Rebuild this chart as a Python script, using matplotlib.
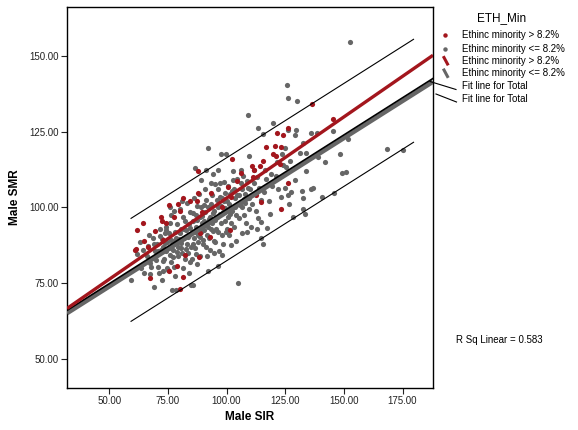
import numpy as np
import matplotlib
matplotlib.use('Agg')
import matplotlib.pyplot as plt
from matplotlib.lines import Line2D

plt.rcParams['font.family'] = ['Liberation Sans', 'DejaVu Sans']

# Male SIR / Male SMR, wards with ethnic minority share <= 8.2%
low_pts = [
    (59.1, 76.1), (62.0, 84.5), (63.5, 80.0), (64.5, 86.0), (65.0, 78.5), (63.0, 88.5),
    (66.5, 87.3), (67.3, 81.6), (68.0, 80.5), (69.1, 73.7), (66.0, 84.0), (68.5, 90.0),
    (69.5, 85.5), (67.5, 78.0), (69.0, 88.0), (66.8, 91.0),
    (70.1, 82.7), (70.8, 80.5), (71.3, 84.9), (72.3, 76.1), (73.0, 87.1), (73.7, 91.5),
    (74.1, 92.6), (74.4, 93.7), (71.0, 78.5), (72.0, 86.0), (73.5, 83.0), (74.5, 80.0),
    (72.5, 89.5), (70.5, 88.0), (74.0, 85.5), (71.8, 93.0), (73.0, 79.0), (74.8, 88.5),
    (75.1, 79.4), (75.8, 100.3), (76.5, 89.3), (77.2, 86.0), (77.5, 80.5), (76.9, 72.8),
    (78.6, 72.8), (79.3, 87.1), (78.0, 92.0), (76.0, 95.0), (77.0, 83.5), (78.5, 90.0),
    (79.5, 84.0), (75.5, 91.5), (76.5, 97.5), (78.0, 77.5), (79.0, 94.5), (79.8, 89.5),
    (77.8, 99.0), (75.3, 86.5), (76.2, 82.0),
    (80.8, 88.2), (81.5, 97.0), (82.9, 92.6), (83.6, 84.9), (84.3, 82.1), (80.5, 93.0),
    (81.0, 85.0), (82.0, 90.0), (82.5, 95.5), (83.0, 88.0), (84.0, 91.0), (84.5, 98.5),
    (80.2, 99.5), (81.5, 80.0), (83.2, 101.5), (84.8, 87.0), (82.2, 83.0), (80.0, 91.5),
    (83.8, 94.5), (81.2, 102.0), (84.2, 78.5),
    (85.0, 74.4), (85.7, 74.4), (85.7, 98.1), (86.4, 113.1), (88.5, 96.8), (89.3, 109.1),
    (86.0, 90.0), (86.5, 86.5), (87.0, 93.5), (87.5, 100.5), (88.0, 88.5), (88.5, 84.0),
    (89.0, 92.0), (89.5, 95.0), (86.2, 103.0), (87.2, 81.5), (88.2, 104.5), (89.8, 88.0),
    (85.5, 95.5), (87.8, 91.0), (86.8, 97.5), (89.0, 100.0), (85.2, 83.0),
    (90.0, 89.3), (91.4, 102.5), (91.4, 87.1), (92.1, 79.1), (94.2, 92.1), (94.5, 84.9),
    (91.4, 112.4), (94.2, 111.1), (92.1, 119.5), (90.5, 95.5), (91.0, 98.5), (92.0, 93.5),
    (92.5, 90.0), (93.0, 97.0), (93.5, 101.0), (94.0, 104.0), (90.8, 106.0), (92.8, 86.0),
    (93.8, 95.0), (94.8, 99.0), (90.2, 92.5), (91.8, 84.0), (93.3, 108.0), (92.3, 100.0),
    (94.5, 89.0),
    (96.2, 80.7), (96.8, 85.8), (98.0, 84.3), (96.3, 112.4), (97.1, 108.2), (97.5, 117.5),
    (99.9, 117.5), (95.5, 93.0), (96.0, 97.0), (96.5, 100.0), (97.0, 103.5), (97.5, 95.0),
    (98.0, 91.0), (98.5, 98.5), (99.0, 102.0), (99.2, 104.7), (99.5, 95.5), (95.2, 88.5),
    (96.5, 106.0), (98.8, 108.5), (97.8, 100.5), (99.8, 92.0), (95.8, 102.5), (98.3, 88.0),
    (101.7, 87.6), (102.7, 109.1), (100.5, 97.0), (101.0, 101.0), (101.5, 104.5), (102.0, 95.0),
    (102.5, 99.0), (103.0, 106.0), (103.5, 103.0), (104.0, 97.5), (104.5, 109.5), (100.2, 93.0),
    (101.2, 91.0), (103.2, 93.5), (104.8, 101.0), (104.8, 75.2), (100.8, 107.0), (102.8, 112.0),
    (104.2, 89.0),
    (106.7, 91.5), (105.5, 104.0), (106.0, 108.0), (106.5, 100.0), (107.0, 110.5), (107.5, 97.5),
    (108.0, 104.5), (108.5, 95.0), (109.0, 106.5), (109.5, 117.1), (109.1, 130.5), (105.2, 96.5),
    (107.8, 101.5), (109.5, 99.5), (106.2, 112.5), (108.8, 92.0),
    (110.5, 93.7), (110.8, 101.0), (111.5, 108.0), (112.0, 104.5), (112.5, 99.0), (113.0, 110.0),
    (113.5, 96.5), (114.0, 106.5), (114.8, 95.2), (114.8, 90.0), (115.5, 87.8), (113.5, 126.2),
    (111.8, 112.5), (110.2, 106.0), (114.5, 102.5), (112.8, 93.0),
    (115.5, 124.3), (116.0, 105.0), (117.3, 93.3), (117.0, 109.5), (118.0, 102.0), (118.5, 98.0),
    (119.5, 107.0), (119.9, 127.8), (116.5, 112.5), (118.8, 111.0),
    (125.1, 119.6), (126.2, 125.6), (129.4, 125.6), (129.1, 123.9), (125.8, 140.4), (126.2, 136.0),
    (129.9, 135.1), (124.0, 114.0), (125.5, 113.5), (122.0, 106.0), (121.0, 110.5), (123.0, 103.5),
    (125.0, 106.5), (126.5, 101.0), (127.5, 105.0), (128.2, 96.8), (126.0, 104.0), (121.5, 115.0),
    (129.0, 109.0), (127.0, 115.5), (123.5, 117.5),
    (131.1, 118.1), (132.5, 121.2), (133.9, 117.9), (136.2, 124.7), (138.4, 124.7), (139.0, 116.6),
    (142.0, 115.1), (145.5, 125.1), (148.5, 117.7), (132.0, 105.5), (132.8, 103.0), (132.5, 99.5),
    (133.5, 98.0), (135.8, 106.0), (137.0, 106.5), (140.8, 103.6), (146.0, 104.9), (149.2, 111.5),
    (150.9, 111.8), (151.6, 122.5), (152.5, 154.8), (168.2, 119.3), (175.0, 119.0), (134.0, 112.0),
    # dense core between SIR 70 and 110
    (70.6, 85.8), (71.6, 90.5), (72.8, 82.2), (73.8, 88.2), (75.8, 84.2), (76.8, 87.8),
    (77.8, 89.0), (78.8, 85.2), (79.6, 91.8), (80.6, 86.5), (81.8, 92.8), (82.6, 86.2),
    (83.4, 90.2), (84.6, 93.2), (85.8, 88.0), (86.6, 92.0), (87.4, 95.8), (88.6, 90.2),
    (89.4, 97.2), (90.4, 100.8), (91.2, 94.2), (92.4, 96.2), (93.2, 92.8), (94.2, 98.2),
    (95.2, 96.0), (96.2, 91.8), (97.2, 98.0), (98.2, 103.0), (99.4, 99.8), (100.4, 102.2),
    (101.4, 97.8), (102.4, 105.5), (103.6, 100.2), (104.6, 104.2), (105.6, 100.8), (106.6, 106.2),
    (107.6, 102.8), (108.6, 108.8), (109.6, 103.2), (95.0, 107.8), (91.6, 90.8), (86.8, 84.5),
]

# wards with ethnic minority share > 8.2%
high_pts = [
    (61.9, 92.7), (61.3, 86.2), (60.8, 86.0), (64.2, 95.0), (64.7, 89.0), (67.3, 76.8),
    (69.4, 92.4), (72.0, 97.0), (72.3, 95.6), (74.3, 95.0), (75.5, 100.9), (77.6, 97.0),
    (79.3, 101.0), (80.0, 99.0), (81.5, 103.0), (84.3, 102.2), (87.2, 102.0), (87.8, 112.0),
    (66.4, 87.0), (88.1, 83.8), (80.0, 73.2), (81.5, 77.2), (79.0, 80.7), (75.5, 79.0),
    (73.0, 89.3), (82.2, 84.3), (87.8, 104.7), (89.5, 98.6), (88.5, 91.5), (92.8, 90.4),
    (93.5, 104.7), (98.0, 100.3), (100.6, 106.9), (102.0, 103.6), (104.4, 108.7), (101.3, 92.6),
    (106.3, 111.3), (112.6, 104.1), (111.2, 110.2), (102.3, 116.0), (110.9, 113.8), (111.6, 112.4),
    (114.2, 113.7), (115.6, 115.3), (116.9, 120.0), (119.7, 117.5), (120.9, 117.0), (120.7, 120.4),
    (123.0, 120.1), (121.3, 124.5), (123.9, 124.0), (126.0, 126.3), (122.8, 114.2), (126.1, 108.0),
    (123.3, 99.4), (114.5, 101.7), (136.5, 134.3), (145.5, 129.2),
]

# fitted lines (intercept, slope)
fit_high = (49.5, 0.536)
fit_low = (49.4, 0.490)
fit_total = (50.3, 0.491)
pi_half = 17.0          # half width of the individual prediction band
sir_range = (59.3, 179.7)
r_sq = 0.583

red = '#a3161d'
grey = '#666666'

W, H = 578, 430
fig = plt.figure(figsize=(W / 100, H / 100), dpi=100)
ax = fig.add_axes([67 / W, 1 - 388 / H, 366 / W, 381 / H])
ax.set_xlim(32, 188)
ax.set_ylim(40.4, 166.2)

lo = np.array(low_pts)
hi = np.array(high_pts)
ax.scatter(lo[:, 0], lo[:, 1], s=14, color=grey, linewidths=0, zorder=2)
ax.scatter(hi[:, 0], hi[:, 1], s=14, color=red, linewidths=0, zorder=2)

xx = np.array([32, 188])
ax.plot(xx, fit_low[0] + fit_low[1] * xx, color=grey, lw=3.2, zorder=3, solid_capstyle='butt')
ax.plot(xx, fit_total[0] + fit_total[1] * xx, color='black', lw=1.2, zorder=4)
ax.plot(xx, fit_high[0] + fit_high[1] * xx, color=red, lw=2.4, zorder=5, solid_capstyle='butt')

xb = np.array(sir_range)
yb = fit_total[0] + fit_total[1] * xb
ax.plot(xb, yb + pi_half, color='black', lw=0.8, zorder=4)
ax.plot(xb, yb - pi_half, color='black', lw=0.8, zorder=4)

ax.set_xticks([50, 75, 100, 125, 150, 175])
ax.set_yticks([50, 75, 100, 125, 150])
ax.xaxis.set_major_formatter(matplotlib.ticker.FormatStrFormatter('%.2f'))
ax.yaxis.set_major_formatter(matplotlib.ticker.FormatStrFormatter('%.2f'))
ax.tick_params(direction='out', length=4, width=0.8, labelsize=7, colors='#222222', pad=2)
for sp in ax.spines.values():
    sp.set_linewidth(1.0)

ax.set_xlabel('Male SIR', fontsize=8.5, fontweight='bold', labelpad=3)
ax.set_ylabel('Male SMR', fontsize=8.5, fontweight='bold', labelpad=6)


def fx(px):
    return px / W


def fy(py):
    return 1 - py / H


# legend block on the right
fig.text(fx(502), fy(18), 'ETH_Min', fontsize=8.5, ha='center', va='center')
labels = ['Ethinc minority > 8.2%', 'Ethinc minority <= 8.2%',
          'Ethinc minority > 8.2%', 'Ethinc minority <= 8.2%',
          'Fit line for Total', 'Fit line for Total']
rows = [35, 48.5, 61, 73.5, 86, 99]
for lab, r in zip(labels, rows):
    fig.text(fx(461.5), fy(r), lab, fontsize=7, ha='left', va='center')

fig.add_artist(Line2D([fx(445)], [fy(35)], marker='o', ms=3.2, color=red, mew=0))
fig.add_artist(Line2D([fx(445)], [fy(48.5)], marker='o', ms=3.2, color=grey, mew=0))
fig.add_artist(Line2D([fx(444), fx(447.5)], [fy(57.5), fy(64)], color=red, lw=2.2))
fig.add_artist(Line2D([fx(444), fx(447.5)], [fy(70), fy(76.5)], color=grey, lw=2.2))
fig.add_artist(Line2D([fx(430), fx(456)], [fy(81.5), fy(89.5)], color='black', lw=0.8))
fig.add_artist(Line2D([fx(436), fx(456.5)], [fy(94), fy(102)], color='black', lw=0.8))

fig.text(fx(456), fy(340), f'R Sq Linear = {r_sq:.3f}', fontsize=7, ha='left', va='center')

fig.savefig('out.png', dpi=100)
